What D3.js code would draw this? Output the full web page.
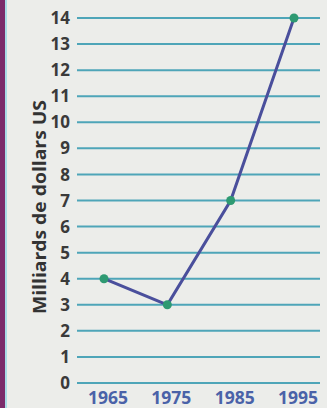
<!DOCTYPE html>
<html lang="fr">
  <head>
    <meta charset="UTF-8" />
    <title>Milliards de dollars US</title>
    <script src="https://cdnjs.cloudflare.com/ajax/libs/d3/7.8.5/d3.min.js"></script>
    <style>
      html, body { margin: 0; padding: 0; background: #ecedea; }
      svg { display: block; }
    </style>
  </head>
  <body>
    <div id="chart"></div>

    <script type="text/javascript">
      var years = [1965, 1975, 1985, 1995];
      var values = [4, 3, 7, 14];
      var yTicks = [0, 1, 2, 3, 4, 5, 6, 7, 8, 9, 10, 11, 12, 13, 14];
      var yTitle = "Milliards de dollars US";

      var width = 327, height = 408;

      var svg = d3.select("#chart").append("svg")
        .attr("width", width)
        .attr("height", height);

      svg.append("rect").attr("width", width).attr("height", height).attr("fill", "#ecedea");

      /* coloured strip on the left edge */
      svg.append("rect").attr("x", 0).attr("y", 0).attr("width", 5).attr("height", height).attr("fill", "#7b2b6b");
      svg.append("rect").attr("x", 5).attr("y", 0).attr("width", 2).attr("height", height).attr("fill", "#a9dbe6");

      var x = d3.scaleLinear().domain([1965, 1995]).range([104, 294]);
      var y = d3.scaleLinear().domain([0, 14]).range([383, 18]);

      /* grid lines */
      svg.append("g").selectAll("line")
        .data(yTicks)
        .enter()
        .append("line")
        .attr("x1", 77)
        .attr("x2", 320)
        .attr("y1", function (d) { return y(d); })
        .attr("y2", function (d) { return y(d); })
        .attr("stroke", "#4ea5b8")
        .attr("stroke-width", 2);

      /* y tick labels */
      svg.append("g").selectAll("text")
        .data(yTicks)
        .enter()
        .append("text")
        .attr("x", 70)
        .attr("y", function (d) { return y(d); })
        .attr("dy", "0.36em")
        .attr("text-anchor", "end")
        .attr("font-family", "Open Sans, sans-serif")
        .attr("font-weight", "bold")
        .attr("font-size", 17)
        .attr("fill", "#3a3a3a")
        .text(function (d) { return d; });

      /* x tick labels */
      svg.append("g").selectAll("text")
        .data(years)
        .enter()
        .append("text")
        .attr("x", function (d) { return x(d) + 4; })
        .attr("y", 404)
        .attr("text-anchor", "middle")
        .attr("font-family", "Open Sans, sans-serif")
        .attr("font-weight", "bold")
        .attr("font-size", 17.5)
        .attr("fill", "#4a62a8")
        .text(function (d) { return d; });

      /* axis title */
      svg.append("text")
        .attr("transform", "translate(46,207) rotate(-90)")
        .attr("text-anchor", "middle")
        .attr("font-family", "Open Sans, sans-serif")
        .attr("font-weight", "bold")
        .attr("font-size", 17.5)
        .attr("fill", "#333")
        .attr("textLength", 214)
        .attr("lengthAdjust", "spacingAndGlyphs")
        .text(yTitle);

      var points = years.map(function (d, i) { return { year: d, value: values[i] }; });

      var line = d3.line()
        .x(function (d) { return x(d.year); })
        .y(function (d) { return y(d.value); });

      svg.append("path")
        .datum(points)
        .attr("d", line)
        .attr("fill", "none")
        .attr("stroke", "#4a4f9c")
        .attr("stroke-width", 3);

      svg.append("g").selectAll("circle")
        .data(points)
        .enter()
        .append("circle")
        .attr("cx", function (d) { return x(d.year); })
        .attr("cy", function (d) { return y(d.value); })
        .attr("r", 4.5)
        .attr("fill", "#2e9a72");
    </script>
  </body>
</html>
